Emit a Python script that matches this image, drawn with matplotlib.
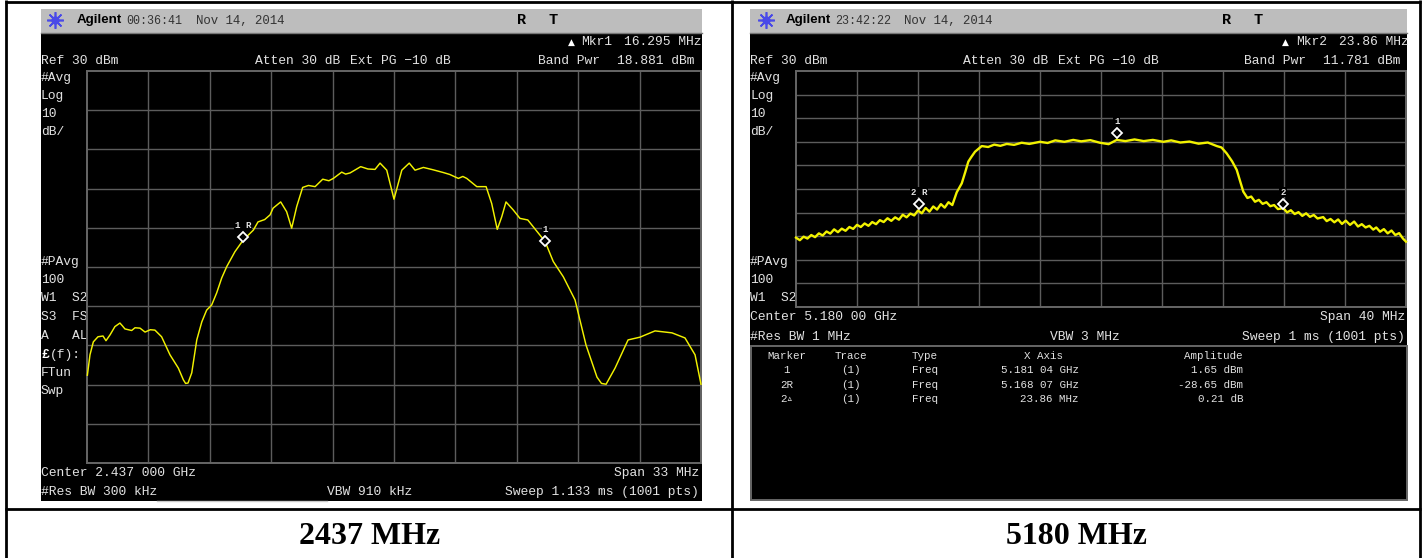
import matplotlib
matplotlib.use("Agg")
import matplotlib.pyplot as plt
from matplotlib.patches import Rectangle

W, H = 1427, 558

# Left trace: frequency offset (MHz), level (dBm)
freq_2437 = [-16.48,-16.34,-16.16,-15.91,-15.64,-15.48,-15.26,-15.0,-14.73,-14.6,-14.46,-14.1,-13.92,-13.65,-13.38,-13.1,-12.85,-12.49,
             -12.04,-11.59,-11.32,-11.2,-11.07,-10.87,-10.6,-10.33,-10.07,-9.8,-9.53,-9.26,-8.99,-8.55,-8.1,-7.56,-7.31,-6.95,-6.66,-6.5,
             -6.09,-5.77,-5.5,-5.23,-4.91,-4.6,-4.24,-3.83,-3.5,-3.26,-2.81,-2.6,-2.36,-1.79,-1.4,-1.02,-0.75,-0.39,0.0,0.42,0.82,1.13,1.58,
             2.1,2.65,3.0,3.46,3.7,3.91,4.45,4.95,5.25,5.55,5.79,6.02,6.4,6.77,7.19,8.12,8.56,9.1,9.73,10.32,10.91,11.15,11.4,11.88,
             12.58,13.22,14.03,14.94,15.64,16.18,16.5]
level_2437 = [-47.6,-42.4,-39.1,-37.8,-37.6,-38.8,-37.3,-35.2,-34.3,-35.0,-35.8,-36.2,-35.5,-35.6,-36.6,-36.0,-36.1,-37.8,
              -42.4,-45.8,-48.8,-49.7,-49.6,-47.0,-38.6,-34.0,-31.0,-29.7,-26.6,-22.8,-19.9,-16.1,-13.1,-10.6,-8.5,-7.9,-6.7,-5.0,
              -3.4,-5.9,-10.1,-4.6,0.3,0.8,0.5,2.4,2.0,2.6,4.2,3.7,4.0,5.6,5.0,4.9,6.5,4.7,-2.7,4.7,6.5,4.7,5.4,
              4.8,4.1,3.6,2.6,3.1,2.6,0.5,0.5,-3.8,-10.4,-7.2,-3.4,-5.4,-7.6,-8.0,-13.5,-18.6,-22.5,-28.4,-39.9,-48.1,-49.7,-49.9,-45.8,
              -38.6,-37.9,-36.3,-36.8,-38.1,-42.4,-49.9]

# Right trace: frequency offset (MHz), level (dBm)
freq_5180 = [-20.0,-19.75,-19.5,-19.25,-19.0,-18.75,-18.5,-18.25,-18.0,-17.75,-17.5,-17.25,-17.0,-16.75,-16.5,-16.25,-16.0,-15.75,-15.5,-15.25,
             -15.0,-14.75,-14.5,-14.25,-14.0,-13.75,-13.5,-13.25,-13.0,-12.75,-12.5,-12.25,-12.0,-11.75,-11.5,-11.25,-11.0,-10.75,-10.5,-10.25,
             -10.0,-9.75,-9.46,-9.13,-8.9,-8.7,-8.5,-8.26,-7.82,-7.4,-7.0,-6.6,-6.18,-5.7,-5.2,-4.7,-4.0,-3.5,-3.0,-2.4,-1.82,-1.3,-0.7,-0.07,
             0.5,1.03,1.6,2.2,2.8,3.4,4.09,4.6,5.2,5.8,6.4,7.0,7.59,7.9,8.24,8.6,8.9,9.1,9.33,9.6,9.85,10.1,10.35,10.6,10.85,11.1,11.35,11.6,11.95,
             12.2,12.45,12.7,12.95,13.2,13.45,13.7,13.95,14.2,14.57,14.8,15.05,15.3,15.55,15.8,16.05,16.33,16.6,16.85,17.1,17.35,17.6,17.85,18.05,
             18.3,18.55,18.8,19.05,19.3,19.55,19.8,20.0]
level_5180 = [-40.6,-41.7,-40.2,-41.0,-39.5,-40.4,-38.8,-39.7,-38.0,-38.9,-37.1,-38.3,-36.8,-37.7,-36.1,-36.9,-35.2,-36.1,-34.6,-35.6,
              -34.0,-34.9,-33.2,-34.0,-32.4,-33.5,-32.0,-33.0,-30.9,-32.0,-30.4,-31.2,-29.1,-30.3,-28.0,-29.6,-27.4,-28.7,-26.4,-27.9,
              -25.6,-26.8,-21.4,-17.6,-12.8,-8.4,-6.4,-4.2,-1.8,-2.2,-1.2,-1.7,-0.9,-1.3,-0.4,-0.9,0.0,-0.5,0.6,0.0,0.8,0.2,0.7,-0.4,
              -1.0,0.8,0.3,1.0,0.3,0.8,0.0,0.6,-0.3,0.1,-0.8,-0.3,-1.8,-2.4,-4.9,-8.3,-11.9,-16.2,-21.1,-23.8,-23.2,-25.4,-24.6,-26.3,-25.6,-27.3,-26.8,-28.5,-28.1,
              -29.9,-29.0,-30.6,-29.8,-31.4,-30.3,-31.8,-31.0,-32.5,-31.9,-33.6,-32.7,-34.1,-32.9,-34.8,-33.4,-35.2,-33.8,-35.9,-34.9,-36.3,-35.6,-37.2,-36.3,
              -38.1,-37.0,-38.8,-37.6,-39.5,-38.7,-41.0,-42.3]

marker_freq_2437 = [-8.11, 8.14]
marker_level_2437 = [-12.3, -13.4]
marker_labels_2437 = ["1R", "1"]
marker_freq_5180 = [1.04, -11.93, 11.93]
marker_level_5180 = [3.7, -26.3, -26.3]
marker_labels_5180 = ["1", "2R", "2"]

table_rows = [["1", "(1)", "Freq", "5.181 04 GHz", "1.65 dBm"],
              ["2R", "(1)", "Freq", "5.168 07 GHz", "-28.65 dBm"],
              ["2\u25B5", "(1)", "Freq", "23.86 MHz", "0.21 dB"]]

MONO = ["Liberation Mono", "DejaVu Sans Mono"]
LT = "#e2e2e2"
GRID = "#5c5c5c"
YEL = "#f2f200"

fig = plt.figure(figsize=(W / 100, H / 100), dpi=100, facecolor="white")
bg = fig.add_axes([0, 0, 1, 1])
bg.set_xlim(0, W)
bg.set_ylim(H, 0)
bg.axis("off")


def t(x, y, s, size=9.4, color=LT, ha="left", family=MONO, weight="normal"):
    bg.text(x, y, s, fontsize=size, color=color, ha=ha, va="center", family=family, weight=weight)


def screen(x0, x1, y0, y1, gx0, gx1, gy0, gy1, span, ref, rng, fx, lv, mf, ml, mt, lw):
    bg.add_patch(Rectangle((x0, y0), x1 - x0, y1 - y0, fc="black", ec="none"))
    bg.add_patch(Rectangle((x0, y0), x1 - x0, 24, fc="#bdbdbd", ec="none"))
    bg.plot([x0, x1], [33, 33], color="#777777", lw=1)
    ax = fig.add_axes([gx0 / W, 1 - gy1 / H, (gx1 - gx0) / W, (gy1 - gy0) / H], facecolor="none")
    ax.set_xlim(-span / 2, span / 2)
    ax.set_ylim(ref - rng, ref)
    ax.set_xticks([-span / 2 + span * i / 10 for i in range(1, 10)])
    ax.set_yticks([ref - rng * i / 10 for i in range(1, 10)])
    ax.tick_params(length=0, labelbottom=False, labelleft=False)
    ax.grid(True, color=GRID, lw=1.0)
    ax.set_axisbelow(True)
    for s in ax.spines.values():
        s.set_color("#666666")
        s.set_linewidth(1.4)
    ax.plot(fx, lv, color=YEL, lw=lw, clip_on=False, zorder=3)
    ax.plot(mf, ml, ls="none", marker="D", ms=5.2, mfc="black", mec="white", mew=1.3, zorder=4)
    for a, b, s in zip(mf, ml, mt):
        ax.annotate(" ".join(s), (a, b), xytext=(0, 8.5), textcoords="offset points", ha="center", va="center",
                    fontsize=6.6, color=LT, family=MONO, weight="bold",
                    bbox=dict(fc="black", ec="none", pad=0.6), zorder=4)
    return ax


def header(star, stamp_x, date_x, r_x, stamp, date):
    bg.plot([star], [20], marker=(8, 2, 0), ms=12, color="#4a4ae8", mew=1.2, ls="none")
    bg.plot([star], [20], marker="o", ms=5, color="#4a4ae8", ls="none")
    t(stamp_x, 20.5, "Agilent", size=9.6, color="black", family=["Liberation Sans"], weight="bold")
    t(stamp_x + 49, 20.5, stamp, size=8.4, color="#333333")
    t(date_x, 20.5, date, size=8.9, color="#333333")
    t(r_x, 20.5, "R", size=11, color="black", ha="center", weight="bold")
    t(r_x + 31, 20.5, "T", size=11, color="black", ha="center", weight="bold")


# Left screen
screen(41, 702, 9, 501, 87, 701, 71, 463, 33, 30, 100, freq_2437, level_2437,
       marker_freq_2437, marker_level_2437, marker_labels_2437, 1.05)
header(55, 77, 196, 522, "00:36:41", "Nov 14, 2014")
bg.plot([157, 327], [500.5, 500.5], color="#cccccc", lw=1)
t(571, 42, "\u25B2", size=6.5, color="white", ha="center", family=["DejaVu Sans"])
t(581, 42, "Mkr1")
t(624, 42, "16.295 MHz")
t(41, 61, "Ref 30 dBm")
t(255, 61, "Atten 30 dB")
t(350, 61, "Ext PG \u221210 dB")
t(538, 61, "Band Pwr")
t(617, 61, "18.881 dBm")
for y, s in zip([78, 96, 114, 132, 262, 280, 298, 317, 336, 373, 391],
                ["#Avg", "Log", "10", "dB/", "#PAvg", "100", "W1  S2", "S3  FS", "A   AL", "FTun", "Swp"]):
    t(41, y, s)
t(41, 355, "\u00A3", weight="bold", color="white")
t(50, 355, "(f):")
t(41, 473, "Center 2.437 000 GHz")
t(699, 473, "Span 33 MHz", ha="right")
t(41, 492, "#Res BW 300 kHz")
t(370, 492, "VBW 910 kHz", ha="center")
t(699, 492, "Sweep 1.133 ms (1001 pts)", ha="right")

# Right screen
screen(750, 1407, 9, 500, 796, 1406, 71, 307, 40, 30, 100, freq_5180, level_5180,
       marker_freq_5180, marker_level_5180, marker_labels_5180, 1.7)
header(766, 786, 904, 1227, "23:42:22", "Nov 14, 2014")
t(1285, 42, "\u25B2", size=6.5, color="white", ha="center", family=["DejaVu Sans"])
t(1296, 42, "Mkr2")
t(1339, 42, "23.86 MHz")
t(750, 61, "Ref 30 dBm")
t(963, 61, "Atten 30 dB")
t(1058, 61, "Ext PG \u221210 dB")
t(1244, 61, "Band Pwr")
t(1323, 61, "11.781 dBm")
for y, s in zip([78, 96, 114, 132, 262, 280, 298], ["#Avg", "Log", "10", "dB/", "#PAvg", "100", "W1  S2"]):
    t(750, y, s)
t(750, 317, "Center 5.180 00 GHz")
t(1405, 317, "Span 40 MHz", ha="right")
t(750, 337, "#Res BW 1 MHz")
t(1085, 337, "VBW 3 MHz", ha="center")
t(1405, 337, "Sweep 1 ms (1001 pts)", ha="right")
bg.add_patch(Rectangle((750.5, 346), 656, 154, fc="black", ec="#666666", lw=1.4))
cols = [(787, "center"), (851, "center"), (925, "center"), (1079, "right"), (1243, "right")]
for (x, ha), s in zip(cols, ["Marker", "Trace", "Type", "X Axis", "Amplitude"]):
    t(x if s != "X Axis" else 1044, 356, s, size=7.8, ha=ha if s != "X Axis" else "center")
for y, row in zip([370, 384.5, 398.5], table_rows):
    for (x, ha), s in zip(cols, row):
        t(x, y, s, size=7.8, ha=ha)

# Table rules and captions
for xs, ys in [([6, 6], [0, H]), ([732, 732], [0, H]), ([1420, 1420], [0, H]),
               ([5, 1421], [1.5, 1.5]), ([5, 1421], [509, 509])]:
    bg.plot(xs, ys, color="black", lw=2, solid_capstyle="butt")
for x, s in [(369.5, "2437 MHz"), (1076, "5180 MHz")]:
    bg.text(x, 536, s, fontsize=23, ha="center", va="center", family=["Liberation Serif"], weight="bold", color="black")

fig.savefig("out.png", dpi=100)
